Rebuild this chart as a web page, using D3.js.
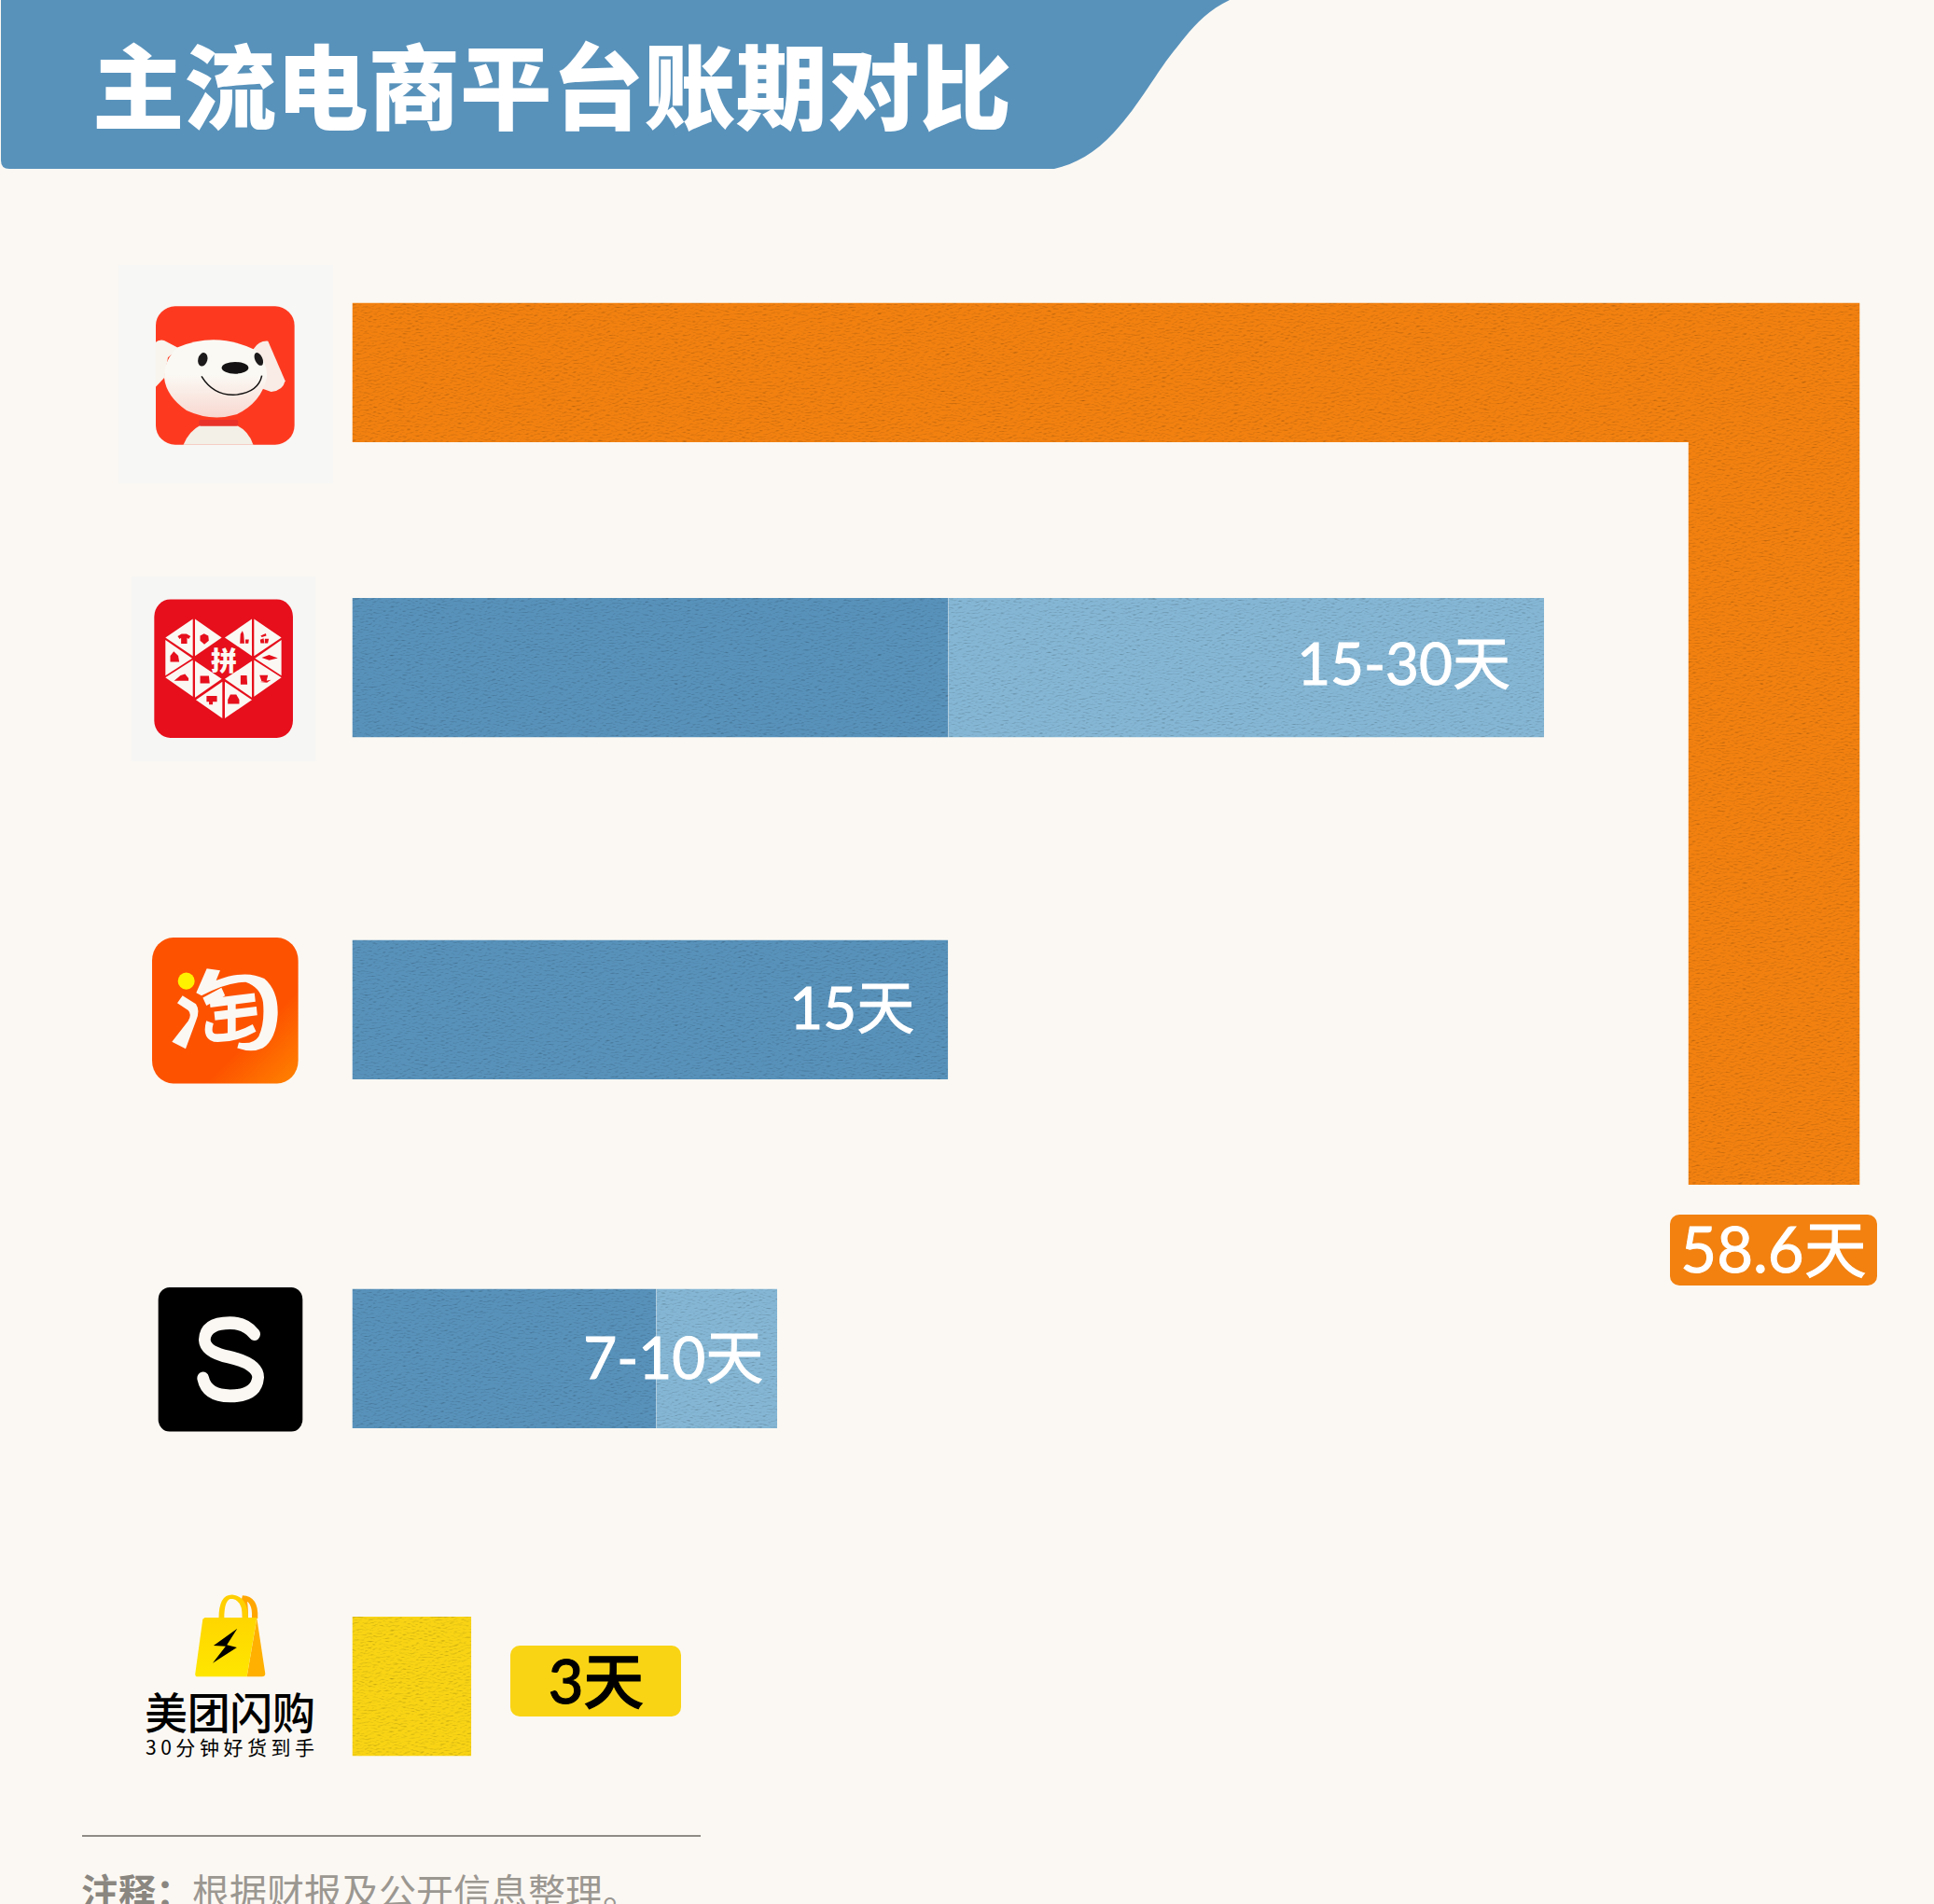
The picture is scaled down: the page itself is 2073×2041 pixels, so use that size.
<!DOCTYPE html>
<html>
<head>
<meta charset="utf-8">
<script src="https://cdn.jsdelivr.net/npm/d3@7"></script>
<style>
  html, body { margin: 0; padding: 0; background: #fbf8f3; overflow: hidden; }
  text { font-family: "Noto Sans CJK SC", "Noto Sans", sans-serif; }
  text.val { font-family: Lato, "Noto Sans CJK SC", sans-serif; stroke-width: 1; paint-order: stroke; }
</style>
</head>
<body>
<div id="viz"></div>
<script>
// data
var platforms = ["京东", "拼多多", "淘宝", "小红书", "美团闪购"];
var baseDays = [58.6, 15, 15, 7.65, 3];     // darker part of the bar
var upperDays = [null, 30, null, 10.7, null]; // lighter part, where the term is a range
var dayLabels = ["58.6天", "15-30天", "15天", "7-10天", "3天"];
var bendDay = 37.95;  // where the 京东 bar turns downward

var titleText = "主流电商平台账期对比";
var noteHead = "注释：";
var noteBody = "根据财报及公开信息整理。";

// layout
var w = 2073, h = 2041;
var rowTops = [324.6, 641, 1007.5, 1381.5, 1733];
var barH = 149.5;
var blue = "#5892bb", lightBlue = "#85b7d5", orange = "#f28110", yellow = "#f9d415", bg = "#fbf8f3";

var x = d3.scaleLinear().domain([0, 30]).range([377.5, 1655]);
var rowY = d3.scaleOrdinal().domain(platforms).range(rowTops);
// the turned part of the 京东 bar keeps going down the page
var bendY = d3.scaleLinear().domain([bendDay, baseDays[0]]).range([rowTops[0], 1270]);

var svg = d3.select("#viz").append("svg")
  .attr("width", w)
  .attr("height", h)
  .style("display", "block");

svg.append("rect").attr("width", w).attr("height", h).attr("fill", bg);

var defs = svg.append("defs");

// paper grain on the bars, fine horizontal streaks
var paper = defs.append("filter").attr("id", "paper")
  .attr("x", 0).attr("y", 0).attr("width", 1).attr("height", 1)
  .attr("color-interpolation-filters", "sRGB");
paper.append("feTurbulence").attr("type", "fractalNoise").attr("baseFrequency", "0.22 0.7")
  .attr("numOctaves", 3).attr("seed", 4).attr("result", "noise");
paper.append("feDiffuseLighting").attr("in", "noise").attr("surfaceScale", 0.55)
  .attr("diffuseConstant", 1.155).attr("lighting-color", "#fff").attr("result", "light")
  .append("feDistantLight").attr("azimuth", 80).attr("elevation", 60);
paper.append("feComposite").attr("in", "SourceGraphic").attr("in2", "light")
  .attr("operator", "arithmetic").attr("k1", 1).attr("k2", 0).attr("k3", 0).attr("k4", 0).attr("result", "lit");
paper.append("feComposite").attr("in", "lit").attr("in2", "SourceAlpha").attr("operator", "in");

var taoGrad = defs.append("linearGradient").attr("id", "taoGrad")
  .attr("x1", 0.68).attr("y1", 0.68).attr("x2", 1).attr("y2", 1);
taoGrad.append("stop").attr("offset", 0).attr("stop-color", "#fd5200");
taoGrad.append("stop").attr("offset", 1).attr("stop-color", "#ff8400");

var bagGrad = defs.append("linearGradient").attr("id", "bagGrad")
  .attr("x1", 0).attr("y1", 0).attr("x2", 0).attr("y2", 1);
bagGrad.append("stop").attr("offset", 0).attr("stop-color", "#ffd600");
bagGrad.append("stop").attr("offset", 1).attr("stop-color", "#ffe600");

var dogGrad = defs.append("linearGradient").attr("id", "dogGrad")
  .attr("x1", 0).attr("y1", 0).attr("x2", 0).attr("y2", 1);
dogGrad.append("stop").attr("offset", 0.45).attr("stop-color", "#fbf9f4");
dogGrad.append("stop").attr("offset", 1).attr("stop-color", "#f8d8d0");

// header
svg.append("path")
  .attr("d", "M1,0 L1318,0 C1292,12 1276,32 1262,50 C1240,76 1222,112 1194,142 C1174,164 1152,176 1130,181 L10,181 Q1,181 1,172 Z")
  .attr("fill", blue);
svg.append("text")
  .attr("x", 99).attr("y", 131)
  .attr("font-size", 98.5).attr("font-weight", 900).attr("fill", "#fff")
  .text(titleText);

// bars
var bars = svg.append("g").attr("class", "bars");

function jdPath() {
  var p = d3.path();
  var right = x(bendDay), top = rowY(platforms[0]);
  p.moveTo(x(0), top);
  p.lineTo(right, top);
  p.lineTo(right, bendY(baseDays[0]));
  p.lineTo(right - 184, bendY(baseDays[0]));
  p.lineTo(right - 184, top + barH);
  p.lineTo(x(0), top + barH);
  p.closePath();
  return p.toString();
}
bars.append("path").attr("d", jdPath()).attr("fill", orange).attr("filter", "url(#paper)");

var rows = platforms.map(function(name, i) {
  return {name: name, base: baseDays[i], upper: upperDays[i], label: dayLabels[i]};
});

bars.selectAll("rect.upper")
  .data(rows.filter(function(d) { return d.upper !== null; }))
  .enter().append("rect")
  .attr("class", "upper")
  .attr("x", function(d) { return x(d.base); })
  .attr("y", function(d) { return rowY(d.name); })
  .attr("width", function(d) { return x(d.upper) - x(d.base); })
  .attr("height", barH)
  .attr("fill", lightBlue)
  .attr("filter", "url(#paper)");

bars.selectAll("rect.base")
  .data(rows.slice(1))
  .enter().append("rect")
  .attr("class", "base")
  .attr("x", x(0))
  .attr("y", function(d) { return rowY(d.name); })
  .attr("width", function(d) { return x(d.base) - x(0); })
  .attr("height", barH)
  .attr("fill", function(d) { return d.base === 3 ? yellow : blue; })
  .attr("filter", "url(#paper)");

// value labels
var labelFont = 62;
function endLabel(i, xRight, dy) {
  svg.append("text")
    .attr("class", "val")
    .attr("x", xRight)
    .attr("y", rowY(platforms[i]) + dy)
    .attr("text-anchor", "end")
    .attr("font-size", labelFont)
    .attr("fill", "#fff")
    .attr("stroke", "#fff")
    .text(dayLabels[i]);
}
endLabel(1, x(upperDays[1]) - 36, 93);
endLabel(2, x(baseDays[2]) - 36, 95);
endLabel(3, x(upperDays[3]) - 15, 96);

svg.append("rect").attr("x", 1790).attr("y", 1302).attr("width", 222).attr("height", 76)
  .attr("rx", 10).attr("fill", orange);
svg.append("text").attr("class", "val").attr("x", 1901).attr("y", 1364).attr("text-anchor", "middle")
  .attr("font-size", 67).attr("fill", "#fff").attr("stroke", "#fff").text(dayLabels[0]);

svg.append("rect").attr("x", 547).attr("y", 1764).attr("width", 183).attr("height", 76)
  .attr("rx", 10).attr("fill", yellow);
svg.append("text").attr("class", "val").attr("x", 639).attr("y", 1826).attr("text-anchor", "middle")
  .attr("font-size", 65).attr("font-weight", 500).attr("fill", "#000").attr("stroke", "#000").text(dayLabels[4]);

// logos, drawn in the pixel grid of the enlarged crops
var cream = "#fbf8f3";

// 京东
svg.append("rect").attr("x", 127).attr("y", 284).attr("width", 230).attr("height", 234).attr("fill", "#f7f7f5");
var jd = svg.append("g").attr("transform", "translate(160,325) scale(0.3333)");
defs.append("clipPath").attr("id", "jdClip").append("rect")
  .attr("x", 21).attr("y", 10).attr("width", 446).attr("height", 445).attr("rx", 62);
jd.append("rect").attr("x", 21).attr("y", 10).attr("width", 446).attr("height", 445).attr("rx", 62).attr("fill", "#fd3a20");
var jdInner = jd.append("g").attr("clip-path", "url(#jdClip)");
jdInner.append("path") // body
  .attr("d", "M108,460 Q125,412 165,392 L280,392 Q322,412 336,460 Z").attr("fill", "#f3f0e8");
jdInner.append("path") // left ear
  .attr("d", "M15,130 Q30,115 48,120 L95,145 L60,175 L48,240 L18,272 Z").attr("fill", "#f8f4ee");
jd.append("path") // right ear
  .attr("d", "M335,148 Q352,120 382,122 L437,250 Q430,282 392,285 L350,270 Z").attr("fill", "#f9ece6");
jd.append("path") // head
  .attr("d", "M92,142 Q215,90 340,150 Q382,190 378,240 Q360,320 280,358 Q200,382 120,345 Q55,300 48,240 Q48,180 92,142 Z")
  .attr("fill", "url(#dogGrad)");
jd.append("rect").attr("x", 160).attr("y", 375).attr("width", 126).attr("height", 20).attr("rx", 5).attr("fill", "#e8322a");
jd.append("ellipse").attr("cx", 172).attr("cy", 181).attr("rx", 15).attr("ry", 22)
  .attr("transform", "rotate(15,172,181)").attr("fill", "#1c1a1a");
jd.append("ellipse").attr("cx", 352).attr("cy", 180).attr("rx", 12).attr("ry", 22)
  .attr("transform", "rotate(-25,352,180)").attr("fill", "#1c1a1a");
jd.append("ellipse").attr("cx", 276).attr("cy", 208).attr("rx", 43).attr("ry", 19).attr("fill", "#141212");
jd.append("path").attr("d", "M168,235 Q205,295 270,295 Q350,290 362,233")
  .attr("fill", "none").attr("stroke", "#141212").attr("stroke-width", 4.5);

// 拼多多
svg.append("rect").attr("x", 141).attr("y", 618).attr("width", 197).attr("height", 198).attr("fill", "#f6f6f5");
var pdd = svg.append("g").attr("transform", "translate(110,270) scale(0.3333,0.3571)");
var pddRed = "#e60f1b";
pdd.append("rect").attr("x", 166).attr("y", 1043).attr("width", 446).attr("height", 416).attr("rx", 52).attr("fill", pddRed);
var pddTiles = [
  [[202,1158],[290,1102],[290,1213]], [[297,1102],[383,1158],[297,1213]],
  [[393,1158],[480,1102],[480,1213]], [[487,1102],[575,1158],[487,1213]],
  [[202,1165],[288,1220],[202,1272]], [[202,1278],[290,1225],[290,1335]],
  [[297,1228],[383,1282],[297,1338]], [[393,1282],[480,1228],[480,1338]],
  [[487,1225],[575,1278],[487,1335]], [[575,1165],[490,1220],[575,1272]],
  [[300,1345],[385,1290],[385,1400]], [[393,1290],[480,1345],[393,1400]]
];
pdd.selectAll("polygon.tile").data(pddTiles).enter().append("polygon")
  .attr("class", "tile")
  .attr("points", function(d) { return d.join(" "); })
  .attr("fill", cream);
// little goods in the tiles
var pddGoods = [
  "M236,1152 L252,1143 L272,1143 L288,1152 L280,1162 L274,1158 L274,1180 L250,1180 L250,1158 L244,1162 Z",
  "M310,1150 L326,1142 L343,1150 L345,1168 L327,1182 L310,1168 Z",
  "M438,1180 L440,1145 L448,1133 L453,1145 L456,1180 Z M460,1165 L474,1165 L472,1180 L460,1180 Z",
  "M503,1165 L517,1160 L520,1178 L505,1178 Z M522,1162 L538,1162 L534,1178 L522,1178 Z M505,1150 L526,1142 L528,1150 L510,1156 Z",
  "M214,1212 L228,1195 L246,1212 L250,1235 L214,1235 Z",
  "M224,1290 L250,1270 L268,1265 L282,1280 L282,1290 Z",
  "M310,1270 L345,1270 L348,1298 L310,1298 Z",
  "M441,1268 L466,1268 L468,1302 L441,1302 Z",
  "M500,1268 L534,1268 L528,1290 L508,1290 Z M502,1293 L546,1285 L530,1296 Z",
  "M505,1218 L535,1208 L570,1220 L535,1228 Z",
  "M330,1330 L372,1330 L372,1352 L355,1352 L355,1362 L340,1362 L340,1352 L330,1352 Z",
  "M398,1345 L408,1325 L432,1325 L444,1345 L444,1360 L398,1360 Z"
];
pdd.selectAll("path.good").data(pddGoods).enter().append("path")
  .attr("class", "good").attr("d", function(d) { return d; }).attr("fill", pddRed)
  .attr("transform", function() {
    // shrink each about its own middle
    var b = this.getBBox(), cx = b.x + b.width / 2, cy = b.y + b.height / 2;
    return "translate(" + cx + "," + cy + ") scale(0.8) translate(" + (-cx) + "," + (-cy) + ")";
  });
svg.append("text").attr("x", 240).attr("y", 719).attr("text-anchor", "middle")
  .attr("font-size", 28).attr("font-weight", 900).attr("fill", cream).text("拼");

// 淘宝
var tao = svg.append("g").attr("transform", "translate(130,980) scale(0.3333,0.3636)");
tao.append("rect").attr("x", 99).attr("y", 69).attr("width", 470).attr("height", 430).attr("rx", 68).attr("fill", "url(#taoGrad)");
tao.append("ellipse").attr("cx", 209).attr("cy", 197).attr("rx", 27).attr("ry", 25).attr("fill", "#fff200");
tao.append("path")
  .attr("d", "M180,262 L197,240 L240,265 Q255,285 240,315 L207,397 L163,376 L215,315 Q228,295 215,283 Z")
  .attr("fill", cream);
tao.append("path")
  .attr("d", "M241,232 L275,160 L318,166 L305,195 Q400,162 460,190 Q505,225 503,295 Q498,370 455,395 Q420,410 373,395 L378,378 Q425,385 442,360 Q462,320 456,260 Q448,215 400,200 Q340,200 258,240 Z")
  .attr("fill", cream);
tao.append("path").attr("d", "M268,258 L328,228 M285,262 L430,245 M300,300 L436,285 M355,255 L355,360")
  .attr("fill", "none").attr("stroke", cream).attr("stroke-width", 26);
tao.append("path").attr("d", "M285,318 Q270,365 310,365 Q370,365 428,335")
  .attr("fill", "none").attr("stroke", cream).attr("stroke-width", 24);

// 小红书
var red = svg.append("g").attr("transform", "translate(130,980) scale(0.3333,0.3636)");
red.append("rect").attr("x", 119).attr("y", 1100).attr("width", 464).attr("height", 425).attr("rx", 36).attr("fill", "#000");
red.append("path")
  .attr("d", "M428,1238 Q400,1205 350,1205 Q270,1205 268,1255 Q270,1290 345,1305 Q440,1325 440,1365 Q435,1420 350,1420 Q275,1420 263,1368")
  .attr("fill", "none").attr("stroke", cream).attr("stroke-width", 38).attr("stroke-linecap", "round");

// 美团闪购
var mt = svg.append("g").attr("transform", "translate(70,1690) scale(0.4464,0.3333)");
mt.append("path").attr("d", "M432,132 Q432,70 425,68 Q458,70 455,135")
  .attr("fill", "none").attr("stroke", "#ffa600").attr("stroke-width", 14);
mt.append("path").attr("d", "M375,134 Q375,65 400,65 Q432,70 432,132")
  .attr("fill", "none").attr("stroke", "#ffcf00").attr("stroke-width", 13);
mt.append("path").attr("d", "M436,322 L460,134 L480,312 Q480,322 472,322 Z").attr("fill", "#ffb000");
mt.append("path").attr("d", "M335,132 L460,132 L436,322 L318,322 Q311,322 312,312 L330,137 Z").attr("fill", "url(#bagGrad)");
mt.append("path").attr("d", "M413,167 L356,222 L385,224 L354,278 L412,228 L388,220 Z").attr("fill", "#000");
svg.append("text").attr("x", 155).attr("y", 1853)
  .attr("font-size", 46).attr("font-weight", 500).attr("fill", "#000")
  .attr("textLength", 183).attr("lengthAdjust", "spacing").text(platforms[4]);
svg.append("text").attr("x", 156).attr("y", 1881)
  .attr("font-size", 21).attr("fill", "#000")
  .attr("textLength", 181).attr("lengthAdjust", "spacing").text("30分钟好货到手");

// footnote
svg.append("line").attr("x1", 88).attr("x2", 751).attr("y1", 1968).attr("y2", 1968)
  .attr("stroke", "#8f8b85").attr("stroke-width", 2);
svg.append("text").attr("x", 87).attr("y", 2043)
  .attr("font-size", 40).attr("font-weight", 700).attr("fill", "#8a8680").text(noteHead);
svg.append("text").attr("x", 206).attr("y", 2043)
  .attr("font-size", 40).attr("font-weight", 400).attr("fill", "#9b9791").text(noteBody);
</script>
</body>
</html>
